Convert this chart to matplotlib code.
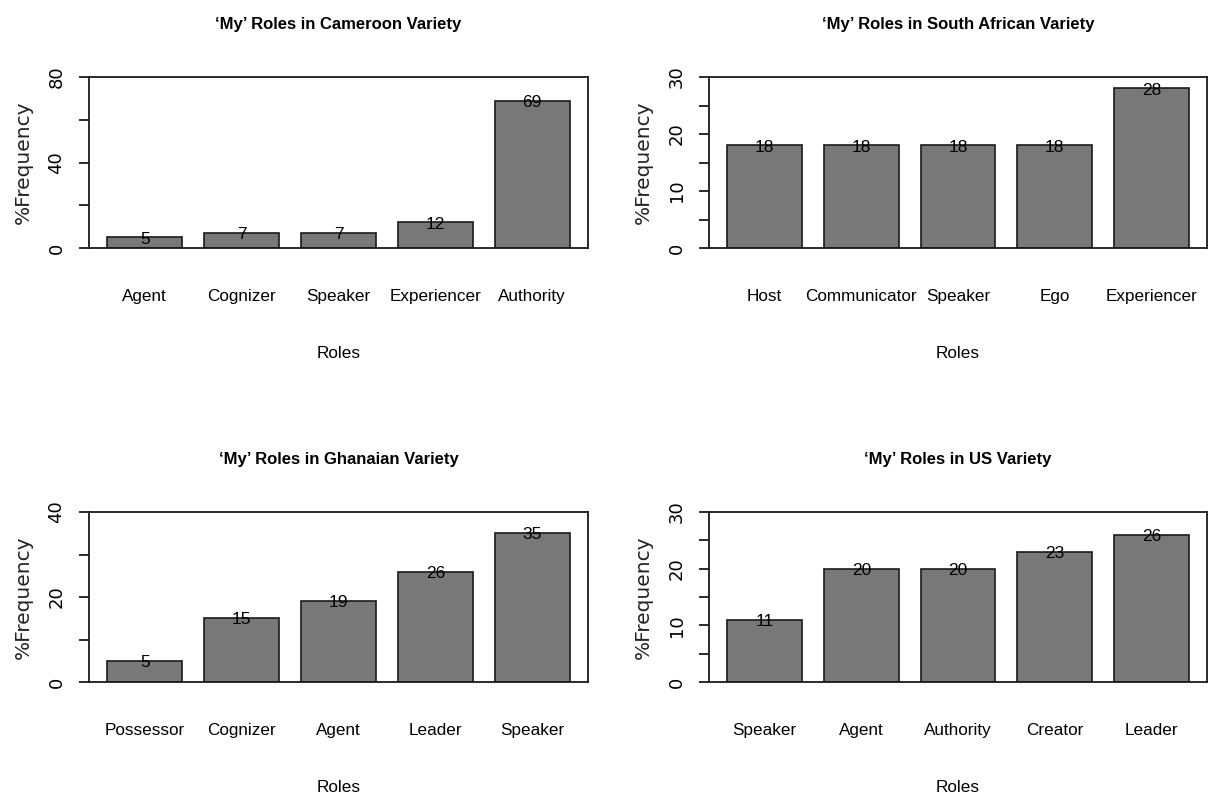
import matplotlib
matplotlib.use("Agg")
import matplotlib.pyplot as plt
from matplotlib import font_manager

# --- data ---
titles = ["\u2018My\u2019 Roles in Cameroon Variety",
          "\u2018My\u2019 Roles in South African Variety",
          "\u2018My\u2019 Roles in Ghanaian Variety",
          "\u2018My\u2019 Roles in US Variety"]

cam_roles = ["Agent", "Cognizer", "Speaker", "Experiencer", "Authority"]
cam_freq = [5, 7, 7, 12, 69]

sa_roles = ["Host", "Communicator", "Speaker", "Ego", "Experiencer"]
sa_freq = [18, 18, 18, 18, 28]

gh_roles = ["Possessor", "Cognizer", "Agent", "Leader", "Speaker"]
gh_freq = [5, 15, 19, 26, 35]

us_roles = ["Speaker", "Agent", "Authority", "Creator", "Leader"]
us_freq = [11, 20, 20, 23, 26]

ylims = [80, 30, 40, 30]
ytick_steps = [20, 5, 10, 5]
ylabel_steps = [40, 10, 20, 10]

# --- fonts ---
names = {f.name for f in font_manager.fontManager.ttflist}
NARROW = "Liberation Sans Narrow" if "Liberation Sans Narrow" in names else "Liberation Sans"
WIDE = "DejaVu Sans"

PX = 0.72  # points per pixel at dpi 100
BAR_COLOR = "#787878"
LINE = "#1a1a1a"

fig = plt.figure(figsize=(12.11, 7.97), dpi=100)
W, H = 1211, 797

# axes boxes in pixels: (left, top, right, bottom)
boxes = [(89, 77, 588, 248), (709, 77, 1207, 248),
         (89, 512, 588, 682), (709, 512, 1207, 682)]

panels = [(cam_roles, cam_freq), (sa_roles, sa_freq),
          (gh_roles, gh_freq), (us_roles, us_freq)]

# R barplot geometry: width 1, space 0.3, 4% padding
pitch = 1.3
bw = 1.0 / pitch
margin = 0.04 * (5 * 1.3 - 0.3) / pitch

VAL_FS = 12.5
LAB_FS = 12.3
TITLE_FS = 12.0

for k, ((roles, freq), (l, t, r, b)) in enumerate(zip(panels, boxes)):
    ax = fig.add_axes([l / W, 1 - b / H, (r - l) / W, (b - t) / H])
    x = list(range(len(roles)))
    ax.bar(x, freq, width=bw, color=BAR_COLOR, edgecolor=LINE, linewidth=1.2, zorder=2)
    ax.set_xlim(-bw / 2 - margin, len(roles) - 1 + bw / 2 + margin)
    ax.set_ylim(0, ylims[k])

    for s in ax.spines.values():
        s.set_linewidth(1.3)
        s.set_color(LINE)

    # y axis: ticks with labels only at some of them, rotated like R
    ticks = list(range(0, ylims[k] + 1, ytick_steps[k]))
    labs = [str(v) if v % ylabel_steps[k] == 0 else "" for v in ticks]
    ax.set_yticks(ticks, labs)
    ax.tick_params(axis="y", direction="out", length=10 * PX, width=1.3,
                   color=LINE, pad=13.5 * PX, labelsize=13)
    for lab in ax.get_yticklabels():
        lab.set_rotation(90)
        lab.set_va("center")
        lab.set_family(WIDE)
    ax.set_xticks([])

    # bar values, centred on the bar top
    for xi, v in zip(x, freq):
        ax.annotate(str(v), xy=(xi, v), xytext=(0, -0.716 * VAL_FS / 2), textcoords="offset points",
                    ha="center", va="baseline", fontsize=VAL_FS, family=NARROW)

    # category names, common baseline
    for xi, name in zip(x, roles):
        ax.annotate(name, xy=(xi, 0), xycoords=("data", "axes fraction"),
                    xytext=(0, -53 * PX), textcoords="offset points",
                    ha="center", va="baseline", fontsize=LAB_FS, family=NARROW)

    ax.annotate("Roles", xy=(0.5, 0), xycoords="axes fraction",
                xytext=(0, -110 * PX), textcoords="offset points",
                ha="center", va="baseline", fontsize=LAB_FS, family=NARROW)

    ax.annotate("%Frequency", xy=(0, 0.5), xycoords="axes fraction",
                xytext=(-66 * PX, 0), textcoords="offset points", rotation=90,
                ha="center", va="center", fontsize=14.5, family=WIDE, color="#222222")

    ax.annotate(titles[k], xy=(0.5, 1), xycoords="axes fraction",
                xytext=(0, 48 * PX), textcoords="offset points",
                ha="center", va="baseline", fontsize=TITLE_FS,
                family=NARROW, fontweight="bold")

fig.savefig("out.png", dpi=100, facecolor="white")
